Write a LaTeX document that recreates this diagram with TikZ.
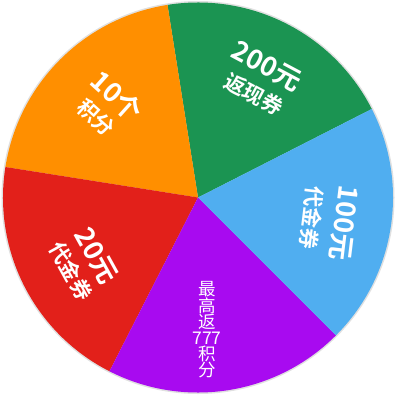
\documentclass[tikz,border=0pt]{standalone}
\usepackage{fontspec}
\setmainfont{Noto Sans CJK SC}[BoldFont=Noto Sans CJK SC Bold]
\definecolor{cgreen}{RGB}{27,148,82}
\definecolor{corange}{RGB}{255,143,0}
\definecolor{cred}{RGB}{226,32,26}
\definecolor{cpurple}{RGB}{168,10,240}
\definecolor{cblue}{RGB}{80,174,240}
\begin{document}
\begin{tikzpicture}[x=1pt,y=1pt,
  big/.style={text=white,inner sep=0pt,font=\fontsize{27}{29}\selectfont\bfseries},
  small/.style={text=white,inner sep=0pt,font=\fontsize{21}{23}\selectfont\bfseries},
  stack/.style={text=white,inner sep=0pt,align=center,font=\fontsize{17.5}{16}\selectfont}]
\useasboundingbox (0,0) rectangle (403,400);
\coordinate (C) at (198,202.5);
\fill[black!12] (C) circle (196.5);
\fill[cgreen]  (C) -- ++(27:195)  arc[start angle=27, end angle=99, radius=195] -- cycle;
\fill[corange] (C) -- ++(99:195)  arc[start angle=99, end angle=171, radius=195] -- cycle;
\fill[cred]    (C) -- ++(171:195) arc[start angle=171, end angle=243, radius=195] -- cycle;
\fill[cpurple] (C) -- ++(243:195) arc[start angle=243, end angle=315, radius=195] -- cycle;
\fill[cblue]   (C) -- ++(315:195) arc[start angle=315, end angle=387, radius=195] -- cycle;
% green
\node[big,rotate=-28] (g1) at (267,334) {200元};
\node[small,rotate=-28] (g2) at (254,306) {返现券};
% orange
\node[big,rotate=-42] (o1) at (117,304) {10个};
\node[small,rotate=-42] (o2) at (96,282) {积分};
% blue
\node[big,rotate=-97] (b1) at (344,177) {100元};
\node[small,rotate=-97] (b2) at (312,182) {代金券};
% red
\node[big,rotate=-61] (r1) at (96,144) {20元};
\node[small,rotate=-61] (r2) at (71,129) {代金券};
% purple
\node[stack] (p1) at (207,70) {最\\高\\返\\777\\积\\分};
\end{tikzpicture}
\end{document}
